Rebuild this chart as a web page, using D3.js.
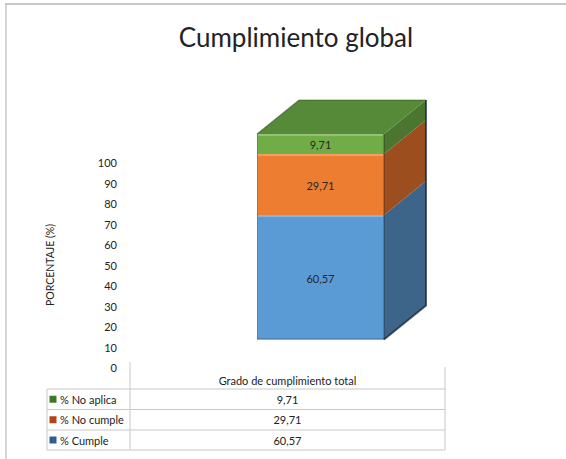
<!DOCTYPE html>
<html>
<head>
<meta charset="utf-8">
<script src="https://cdn.jsdelivr.net/npm/d3@7"></script>
<style>
  html, body { margin: 0; padding: 0; background: #fff; }
  svg { display: block; }
  text { font-family: Lato, "Open Sans", sans-serif; }
</style>
</head>
<body>
<svg id="chart" width="566" height="459"></svg>
<script>
// ---- data ----
const title = "Cumplimiento global";
const categories = ["Grado de cumplimiento total"];
const seriesNames = ["% Cumple", "% No cumple", "% No aplica"];
const cumple = [60.57];
const noCumple = [29.71];
const noAplica = [9.71];
const yTicks = [0, 10, 20, 30, 40, 50, 60, 70, 80, 90, 100];
const yTitle = "PORCENTAJE (%)";

// ---- styles ----
const frontColors = ["#5b9bd5", "#ed7d31", "#70ad47"];
const sideColors = ["#3d6589", "#9c4e1f", "#4a7630"];
const topColor = "#578a38";
const legendColors = ["#2e5f8f", "#b3441a", "#3c7a2a"];

const svg = d3.select("#chart");
const fmt = d3.formatLocale({decimal: ",", thousands: ".", grouping: [3], currency: ["", ""]}).format(".2f");

// frame lines
svg.append("line").attr("x1", 5).attr("x2", 566).attr("y1", 4).attr("y2", 4)
  .attr("stroke", "#b5b5b5").attr("stroke-width", 1.6);
svg.append("line").attr("x1", 6).attr("x2", 6).attr("y1", 4).attr("y2", 459)
  .attr("stroke", "#c4c4c4").attr("stroke-width", 1.4);

// title
svg.append("text").attr("x", 296).attr("y", 47).attr("text-anchor", "middle")
  .attr("font-size", 26).attr("fill", "#222").text(title);

// data table for stacking
const rows = categories.map((c, i) => ({
  cat: c, "% Cumple": cumple[i], "% No cumple": noCumple[i], "% No aplica": noAplica[i]
}));
const stack = d3.stack().keys(seriesNames)(rows);

// scales
const x = d3.scaleBand().domain(categories).range([130, 511]).padding(0.5);
const y = d3.scaleLinear().domain([0, 100]).range([339.5, 134]);
const yAxisScale = d3.scaleLinear().domain([0, 100]).range([368, 163]);
const dx = 42, dy = -34;

// y axis (labels only)
const yAxis = d3.axisLeft(yAxisScale).tickValues(yTicks).tickSize(0).tickPadding(0);
const gy = svg.append("g").attr("transform", "translate(117,0)").call(yAxis);
gy.select(".domain").remove();
gy.selectAll("text").attr("font-family", "Lato, sans-serif").attr("font-size", 11).attr("fill", "#222");

svg.append("text").attr("transform", "translate(50,265) rotate(-90)")
  .attr("text-anchor", "middle").attr("dominant-baseline", "central")
  .attr("font-size", 10.5).attr("fill", "#222").text(yTitle);

// bar
const defs = svg.append("defs");
const barG = svg.append("g");
stack.forEach((s, si) => {
  s.forEach(d => {
    const x0 = x(d.data.cat), x1 = x0 + x.bandwidth();
    const yb = y(d[0]), yt = y(d[1]);
    // side face
    barG.append("path")
      .attr("d", `M${x1},${yt} L${x1 + dx},${yt + dy} L${x1 + dx},${yb + dy} L${x1},${yb} Z`)
      .attr("fill", sideColors[si]);
    // front face
    barG.append("rect").attr("x", x0).attr("y", yt).attr("width", x1 - x0).attr("height", yb - yt)
      .attr("fill", frontColors[si]);
    // bevel highlight on top of front face
    barG.append("line").attr("x1", x0 + 1).attr("x2", x1 - 1).attr("y1", yt + 1).attr("y2", yt + 1)
      .attr("stroke", "#ffffff").attr("stroke-opacity", 0.25).attr("stroke-width", 2);
    // top face only for last series
    if (si === stack.length - 1) {
      barG.append("path")
        .attr("d", `M${x0},${yt} L${x0 + dx},${yt + dy} L${x1 + dx},${yt + dy} L${x1},${yt} Z`)
        .attr("fill", topColor);
    }
  });
});
// edge shading of the box
const xb0 = x(categories[0]), xb1 = xb0 + x.bandwidth();
const yTop = y(100), yBot = y(0);
barG.append("path")
  .attr("d", `M${xb1 + dx},${yTop + dy} L${xb1 + dx},${yBot + dy} L${xb1},${yBot}`)
  .attr("fill", "none").attr("stroke", "#0d1f33").attr("stroke-opacity", 0.7).attr("stroke-width", 2);
barG.append("line").attr("x1", xb1).attr("x2", xb1).attr("y1", yTop).attr("y2", yBot)
  .attr("stroke", "#000").attr("stroke-opacity", 0.25).attr("stroke-width", 1.5);
barG.append("line").attr("x1", xb0).attr("x2", xb1).attr("y1", yBot - 0.5).attr("y2", yBot - 0.5)
  .attr("stroke", "#000").attr("stroke-opacity", 0.2).attr("stroke-width", 1.5);
barG.append("line").attr("x1", xb0 + 0.5).attr("x2", xb0 + 0.5).attr("y1", yTop).attr("y2", yBot)
  .attr("stroke", "#000").attr("stroke-opacity", 0.15).attr("stroke-width", 1);
barG.append("path")
  .attr("d", `M${xb0},${yTop} L${xb0 + dx},${yTop + dy} L${xb1 + dx},${yTop + dy}`)
  .attr("fill", "none").attr("stroke", "#1e3a12").attr("stroke-opacity", 0.45).attr("stroke-width", 1.2);

// bar labels
stack.forEach((s, si) => {
  s.forEach(d => {
    const cx = x(d.data.cat) + x.bandwidth() / 2;
    barG.append("text").attr("x", cx).attr("y", (y(d[0]) + y(d[1])) / 2 + 1)
      .attr("text-anchor", "middle").attr("dominant-baseline", "central")
      .attr("font-size", 11).attr("fill", "#262626").text(fmt(d[1] - d[0]));
  });
});

// data table
const tL = 47, tM = 130, tR = 445;
const rowYs = [389, 409.5, 430, 450];
const grid = svg.append("g").attr("stroke", "#c8c8c8").attr("stroke-width", 1);
grid.append("line").attr("x1", tM).attr("x2", tM).attr("y1", 362).attr("y2", 450);
grid.append("line").attr("x1", tR).attr("x2", tR).attr("y1", 367).attr("y2", 450);
grid.append("line").attr("x1", tL).attr("x2", tL).attr("y1", 389).attr("y2", 450);
rowYs.forEach(ry => grid.append("line").attr("x1", tL).attr("x2", tR).attr("y1", ry).attr("y2", ry));

svg.append("text").attr("x", (tM + tR) / 2).attr("y", 380).attr("text-anchor", "middle")
  .attr("dominant-baseline", "central").attr("font-size", 11).attr("fill", "#222").text(categories[0]);

const tableSeries = [
  {name: seriesNames[2], vals: noAplica, color: legendColors[2]},
  {name: seriesNames[1], vals: noCumple, color: legendColors[1]},
  {name: seriesNames[0], vals: cumple, color: legendColors[0]}
];
tableSeries.forEach((ts, i) => {
  const cy = (rowYs[i] + rowYs[i + 1]) / 2;
  svg.append("rect").attr("x", 49.5).attr("y", cy - 3.5).attr("width", 7).attr("height", 7).attr("fill", ts.color);
  svg.append("text").attr("x", 60).attr("y", cy).attr("dominant-baseline", "central")
    .attr("font-size", 11).attr("fill", "#222").text(ts.name);
  svg.append("text").attr("x", (tM + tR) / 2).attr("y", cy).attr("text-anchor", "middle")
    .attr("dominant-baseline", "central").attr("font-size", 11).attr("fill", "#222").text(fmt(ts.vals[0]));
});
</script>
</body>
</html>
